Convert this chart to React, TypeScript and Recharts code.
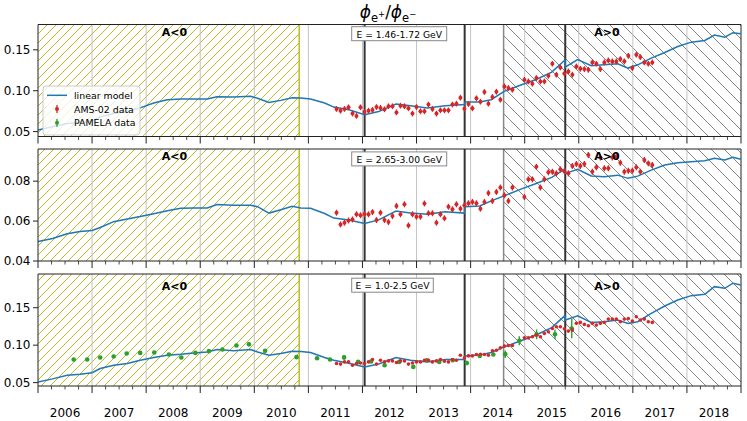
import React from 'react';
import {
  ComposedChart, Line, Scatter, ErrorBar, XAxis, YAxis, ReferenceArea, ReferenceLine,
} from 'recharts';

const FONT = '"DejaVu Sans", sans-serif';
const BLUE = '#1f77b4';
const RED = '#d62728';
const GREEN = '#2ca02c';
const OLIVE = '#bcbd22';

// linear model, sampled on a shared time grid (decimal years)
const MODEL_YEARS = [
  2006.0, 2006.27, 2006.54, 2006.78, 2007.0, 2007.15, 2007.4, 2007.65, 2007.89, 2008.14,
  2008.39, 2008.64, 2008.88, 2009.13, 2009.31, 2009.62, 2009.93, 2010.06, 2010.27, 2010.49,
  2010.7, 2010.86, 2011.04, 2011.3, 2011.47, 2011.75, 2012.04, 2012.3, 2012.62, 2012.89,
  2013.2, 2013.53, 2013.885, 2013.895, 2014.17, 2014.38, 2014.62, 2014.93, 2015.2, 2015.5,
  2015.745, 2015.755, 2015.98, 2016.23, 2016.47, 2016.72, 2016.91, 2017.09, 2017.34, 2017.59,
  2017.83, 2018.08, 2018.33, 2018.51, 2018.7, 2018.85, 2019.0,
];
const MODEL_TOP = [
  0.052, 0.056, 0.060, 0.061, 0.063, 0.068, 0.072, 0.075, 0.079, 0.085,
  0.089, 0.0899, 0.0899, 0.090, 0.0925, 0.0923, 0.0931, 0.0907, 0.0857, 0.0882,
  0.0915, 0.0911, 0.0899, 0.085, 0.080, 0.0768, 0.0707, 0.0745, 0.0838, 0.0817,
  0.0789, 0.0817, 0.083, 0.0862, 0.0862, 0.089, 0.0992, 0.107, 0.1134, 0.1228,
  0.1375, 0.129, 0.138, 0.1305, 0.1317, 0.133, 0.1277, 0.1317, 0.1399, 0.1468,
  0.154, 0.1594, 0.1614, 0.168, 0.1655, 0.171, 0.1696,
];
const MODEL_MID = [
  0.0498, 0.0513, 0.0536, 0.0548, 0.0553, 0.0568, 0.0597, 0.061, 0.0623, 0.0637,
  0.0652, 0.0664, 0.0666, 0.0666, 0.0683, 0.0679, 0.0679, 0.0672, 0.064, 0.0657,
  0.0674, 0.0666, 0.0664, 0.0638, 0.0615, 0.0605, 0.0588, 0.0606, 0.065, 0.064,
  0.0634, 0.0647, 0.064, 0.0672, 0.0676, 0.0701, 0.0726, 0.076, 0.0787, 0.0819,
  0.086, 0.0839, 0.0859, 0.0826, 0.0822, 0.083, 0.0814, 0.0825, 0.0855, 0.0881,
  0.0892, 0.0897, 0.0902, 0.0914, 0.0906, 0.0919, 0.0909,
];
const MODEL_BOT = [
  0.0508, 0.055, 0.0598, 0.0611, 0.0633, 0.0688, 0.0732, 0.0755, 0.0799, 0.0835,
  0.0866, 0.0879, 0.0897, 0.091, 0.0942, 0.0924, 0.0942, 0.091, 0.0866, 0.0888,
  0.092, 0.0915, 0.0902, 0.0835, 0.080, 0.0758, 0.0709, 0.0748, 0.0835, 0.0799,
  0.0777, 0.081, 0.081, 0.0857, 0.0868, 0.0902, 0.0977, 0.1058, 0.1133, 0.1235,
  0.1395, 0.1335, 0.1393, 0.1304, 0.1313, 0.1335, 0.1291, 0.1313, 0.1425, 0.1523,
  0.1603, 0.1661, 0.1679, 0.1781, 0.1759, 0.1827, 0.1804,
];

// AMS-02 ratios, one value per Bartels rotation (27 days) from mid 2011
const AMS_START = 2011.52;
const BARTELS_YEARS = 27 / 365.25;
const AMS_TOP = [
  0.0777, 0.0756, 0.0777, 0.0797, 0.072, 0.0692, 0.0797, 0.074, 0.0756, 0.0765,
  0.080, 0.079, 0.0773, 0.081, 0.081, 0.0735, 0.0817, 0.081, 0.0785, 0.072,
  0.080, 0.0748, 0.0748, 0.083, 0.0777, 0.072, 0.076, 0.076, 0.076, 0.083,
  0.0842, 0.0915, 0.078, 0.0838, 0.0785, 0.0907, 0.0866, 0.0984, 0.0842, 0.0924,
  0.0988, 0.089, 0.1053, 0.1033, 0.1012, null, null, 0.1134, 0.1114, 0.1086,
  0.1155, 0.1114, 0.1114, 0.1183, 0.133, 0.1195, 0.1285, 0.121, 0.1236, 0.1195,
  0.1297, 0.1268, 0.1265, 0.1256, 0.1346, 0.133, 0.1265, 0.1346, 0.137, 0.1358,
  0.1358, 0.1387, 0.136, 0.1427, 0.1277, 0.144, 0.1411, 0.1346, 0.133, 0.1346,
];
const AMS_MID = [
  0.0642, 0.0583, 0.0592, 0.0603, 0.0608, 0.0634, 0.0629, 0.0635, 0.0634, 0.0645,
  0.0605, 0.0642, 0.0605, 0.0595, 0.0625, 0.0676, 0.0634, 0.0684, 0.0578, 0.0634,
  0.0622, 0.0622, 0.0688, 0.0639, 0.0639, 0.0592, 0.0634, 0.0614, 0.0672, 0.0659,
  0.0684, 0.0662, 0.0679, 0.0689, 0.0696, 0.0689, 0.0662, 0.0696, 0.074, 0.0701,
  0.0746, 0.0768, 0.0729, 0.0701, 0.0768, null, null, 0.072, 0.0809, 0.0809,
  0.0872, 0.0768, 0.0809, 0.0844, 0.0847, 0.0839, 0.0859, 0.085, 0.0839, 0.0876,
  0.0886, 0.0876, 0.0886, 0.0931, 0.0847, 0.0869, 0.0919, 0.0864, 0.0864, 0.0919,
  0.0922, 0.0892, 0.0847, 0.0852, 0.0852, 0.0869, 0.0847, 0.0906, 0.0889, 0.0881,
];
const AMS_BOT = [
  0.0755, 0.0747, 0.0777, 0.0777, 0.0732, 0.0755, 0.0763, 0.0755, 0.0777, 0.0808,
  0.0747, 0.0799, 0.0777, 0.079, 0.079, 0.0768, 0.079, 0.079, 0.0747, 0.0763,
  0.0777, 0.0777, 0.0799, 0.0799, 0.0777, 0.079, 0.0808, 0.0785, 0.0777, 0.0808,
  0.0799, 0.0866, 0.083, 0.0857, 0.0857, 0.0875, 0.0879, 0.0875, 0.0866, 0.0924,
  0.0933, 0.0964, 0.0987, 0.0996, 0.0996, null, null, 0.1098, 0.1098, 0.1112,
  0.1134, 0.1112, 0.1156, 0.1179, 0.1223, 0.1246, 0.1246, 0.122, 0.1188, 0.1201,
  0.1291, 0.1304, 0.1277, 0.1259, 0.1291, 0.1268, 0.1291, 0.1304, 0.1348, 0.1348,
  0.1348, 0.1313, 0.1348, 0.1357, 0.1321, 0.1379, 0.1335, 0.1348, 0.1313, 0.1304,
];

// PAMELA ratios (E = 1.0-2.5 GeV)
const PAMELA_YEARS = [
  2006.66, 2006.91, 2007.15, 2007.40, 2007.64, 2007.89, 2008.15, 2008.42, 2008.65, 2008.91,
  2009.16, 2009.41, 2009.67, 2009.90, 2010.20, 2010.78, 2011.16, 2011.40, 2011.66, 2011.92,
  2012.16, 2012.41, 2012.68, 2012.94, 2013.19, 2013.42, 2013.67, 2013.93, 2014.17, 2014.42,
  2014.64, 2014.90, 2015.22, 2015.56, 2015.87,
];
const PAMELA = [
  0.0808, 0.0808, 0.0835, 0.0848, 0.0888, 0.0897, 0.0902, 0.0875, 0.0835, 0.0897,
  0.092, 0.0942, 0.0996, 0.1013, 0.0924, 0.084, 0.0825, 0.0808, 0.0837, 0.0777,
  0.0783, 0.0732, 0.0777, 0.071, 0.0799, 0.0777, 0.0799, 0.0763, 0.0857, 0.0875,
  0.088, 0.106, 0.1145, 0.1145, 0.1223,
];
const PAMELA_ERR = [
  0.0015, 0.0015, 0.0015, 0.0015, 0.0015, 0.0015, 0.0015, 0.0015, 0.0015, 0.0015,
  0.0015, 0.0015, 0.002, 0.003, 0.0015, 0.0015, 0.0015, 0.0015, 0.003, 0.0015,
  0.0015, 0.0015, 0.0015, 0.0015, 0.0015, 0.0015, 0.0015, 0.003, 0.0015, 0.0015,
  0.005, 0.006, 0.0065, 0.0065, 0.013,
];

const YEAR_LINES = [2007, 2008, 2009, 2010, 2011, 2012, 2013, 2014, 2015, 2016, 2017, 2018];
const POLARITY_FLIPS = [2012.04, 2013.89, 2015.75];
const X_TICKS = Array.from({ length: 53 }, (_, k) => 2006 + k * 0.25);

const ams = (vals: (number | null)[], err: number) =>
  vals
    .map((y, i) => ({ x: AMS_START + i * BARTELS_YEARS, y, e: err }))
    .filter((d) => d.y !== null);

const YearTick = (props: any) => {
  const { x, y, payload, showLabel } = props;
  const v = payload.value;
  const major = Math.abs(v - Math.round(v)) < 1e-6;
  const mid = Math.abs(v - Math.floor(v) - 0.5) < 1e-6;
  return (
    <g>
      <line x1={x} x2={x} y1={y} y2={y + (major ? 7 : 3.5)} stroke="#222" strokeWidth={major ? 1 : 0.8} />
      {showLabel && mid ? (
        <text x={x} y={y + 31} textAnchor="middle" fontSize={12} fontFamily={FONT} fill="#000">
          {Math.floor(v)}
        </text>
      ) : null}
    </g>
  );
};

const Dot = (r: number, color: string) => (p: any) => <circle cx={p.cx} cy={p.cy} r={r} fill={color} />;

interface PanelProps {
  id: string;
  top: number;
  marginTop: number;
  axisHeight: number;
  domain: [number, number];
  ticks: number[];
  model: number[];
  amsData: { x: number; y: number | null; e: number }[];
  amsR: number;
  pamela?: boolean;
  showYears?: boolean;
}

const Panel: React.FC<PanelProps> = ({ id, top, marginTop, axisHeight, domain, ticks, model, amsData, amsR, pamela, showYears }) => {
  const modelData = MODEL_YEARS.map((x, i) => ({ x, y: model[i] }));
  const pamelaData = PAMELA_YEARS.map((x, i) => ({ x, y: PAMELA[i], e: PAMELA_ERR[i] }));
  const plotH = 112;
  return (
    <div style={{ position: 'absolute', left: 0, top }}>
      <ComposedChart width={747} height={marginTop + plotH + axisHeight} margin={{ top: marginTop, right: 6, bottom: 0, left: 0 }}>
        <defs>
          <pattern id={`hy-${id}`} patternUnits="userSpaceOnUse" width={9} height={9}>
            <path d="M0,9 L9,0 M-1,1 L1,-1 M8,10 L10,8" stroke={OLIVE} strokeWidth={1} />
          </pattern>
          <pattern id={`hg-${id}`} patternUnits="userSpaceOnUse" width={13} height={13}>
            <path d="M0,0 L13,13 M-1,12 L1,14 M12,-1 L14,1" stroke="#777" strokeWidth={0.9} />
          </pattern>
        </defs>
        <XAxis
          type="number" dataKey="x" domain={[2006, 2019]} ticks={X_TICKS} interval={0} allowDataOverflow
          height={axisHeight} tickSize={0} tickMargin={0} tickLine={false} axisLine={{ stroke: '#222' }}
          tick={(p: any) => <YearTick {...p} showLabel={showYears} />}
        />
        <YAxis
          type="number" domain={domain} ticks={ticks} interval={0} allowDataOverflow width={38}
          tickSize={5} tickMargin={2.5} axisLine={{ stroke: '#222' }} tickLine={{ stroke: '#222' }}
          tick={{ fontSize: 12, fontFamily: FONT, fill: '#000' }}
          tickFormatter={(v: number) => v.toFixed(2)}
        />
        {YEAR_LINES.map((yr) => (
          <ReferenceLine key={yr} x={yr} stroke="#c4c4c4" strokeWidth={1} />
        ))}
        <ReferenceArea x1={2006} x2={2010.83} fill={`url(#hy-${id})`} fillOpacity={1} stroke="none" />
        <ReferenceArea x1={2014.61} x2={2019} fill={`url(#hg-${id})`} fillOpacity={1} stroke="none" />
        <ReferenceLine x={2010.83} stroke={OLIVE} strokeWidth={1.5} />
        <ReferenceLine x={2014.61} stroke="#888" strokeWidth={1.5} />
        {POLARITY_FLIPS.map((yr) => (
          <ReferenceLine key={yr} x={yr} stroke="#333" strokeWidth={2} />
        ))}
        <ReferenceLine x={2019} stroke="#222" strokeWidth={1} />
        <ReferenceLine y={domain[1]} stroke="#222" strokeWidth={1} />
        <Line data={modelData} dataKey="y" type="linear" stroke={BLUE} strokeWidth={1.5} dot={false} isAnimationActive={false} />
        {pamela ? (
          <Scatter data={pamelaData} dataKey="y" shape={Dot(2.3, GREEN)} isAnimationActive={false}>
            <ErrorBar dataKey="e" direction="y" width={0} stroke={GREEN} strokeWidth={1.4} isAnimationActive={false} />
          </Scatter>
        ) : null}
        <Scatter data={amsData} dataKey="y" shape={Dot(amsR, RED)} isAnimationActive={false}>
          <ErrorBar dataKey="e" direction="y" width={0} stroke={RED} strokeWidth={1.3} isAnimationActive={false} />
        </Scatter>
      </ComposedChart>
    </div>
  );
};

const Overlay: React.FC = () => {
  const label = (x: number, y: number, t: string) => (
    <text x={x} y={y} textAnchor="middle" dominantBaseline="central" fontSize={11} fontWeight="bold" fontFamily={FONT}>{t}</text>
  );
  const ebox = (y: number, w: number, t: string) => (
    <g>
      <rect x={351.7} y={y} width={w} height={14} fill="#fff" stroke="#888" strokeWidth={1} />
      <text x={351.7 + w / 2} y={y + 7.3} textAnchor="middle" dominantBaseline="central" fontSize={9.2} fontFamily={FONT}>{t}</text>
    </g>
  );
  return (
    <svg width={747} height={421} style={{ position: 'absolute', left: 0, top: 0, pointerEvents: 'none' }}>
      <text x={388} y={18} textAnchor="middle" fontSize={17} fontFamily={FONT}>
        <tspan fontStyle="italic">ϕ</tspan>
        <tspan fontSize={11.5} dy={4}>e</tspan>
        <tspan fontSize={8.5} dy={-5}>+</tspan>
        <tspan dy={1}>/</tspan>
        <tspan fontStyle="italic">ϕ</tspan>
        <tspan fontSize={11.5} dy={4}>e</tspan>
        <tspan fontSize={8.5} dy={-5}>−</tspan>
      </text>
      {label(174.5, 32.3, 'A<0')}
      {label(607, 32.3, 'A>0')}
      {label(174.5, 156.7, 'A<0')}
      {label(607, 156.7, 'A>0')}
      {label(174.5, 286.7, 'A<0')}
      {label(607, 286.7, 'A>0')}
      {ebox(26.7, 95, 'E = 1.46-1.72 GeV')}
      {ebox(151.9, 95, 'E = 2.65-3.00 GeV')}
      {ebox(278.2, 81.6, 'E = 1.0-2.5 GeV')}
      <g fontFamily={FONT} fontSize={9.4}>
        <rect x={43} y={86} width={97} height={49} rx={3} fill="#fff" fillOpacity={0.8} stroke="#ccc" strokeWidth={1} />
        <line x1={47} x2={67} y1={95.3} y2={95.3} stroke={BLUE} strokeWidth={1.5} />
        <text x={74} y={95.3} dominantBaseline="central">linear model</text>
        <line x1={57} x2={57} y1={105} y2={113} stroke={RED} strokeWidth={1.3} />
        <circle cx={57} cy={109} r={2} fill={RED} />
        <text x={74} y={109} dominantBaseline="central">AMS-02 data</text>
        <line x1={57} x2={57} y1={118.7} y2={126.7} stroke={GREEN} strokeWidth={1.3} />
        <circle cx={57} cy={122.7} r={2} fill={GREEN} />
        <text x={74} y={122.7} dominantBaseline="central">PAMELA data</text>
      </g>
    </svg>
  );
};

export default function App() {
  return (
    <div style={{ position: 'absolute', left: 0, top: 0, width: 747, height: 421, background: '#fff' }}>
      <Panel id="a" top={0} marginTop={24.5} axisHeight={10} domain={[0.044, 0.181]} ticks={[0.05, 0.1, 0.15]}
        model={MODEL_TOP} amsData={ams(AMS_TOP, 0.0035)} amsR={2} />
      <Panel id="b" top={140} marginTop={9} axisHeight={10} domain={[0.04, 0.0961]} ticks={[0.04, 0.06, 0.08]}
        model={MODEL_MID} amsData={ams(AMS_MID, 0.0015)} amsR={2} />
      <Panel id="c" top={265} marginTop={9} axisHeight={35} domain={[0.0455, 0.195]} ticks={[0.05, 0.1, 0.15]}
        model={MODEL_BOT} amsData={ams(AMS_BOT, 0.0006)} amsR={1.8} pamela showYears />
      <Overlay />
    </div>
  );
}
